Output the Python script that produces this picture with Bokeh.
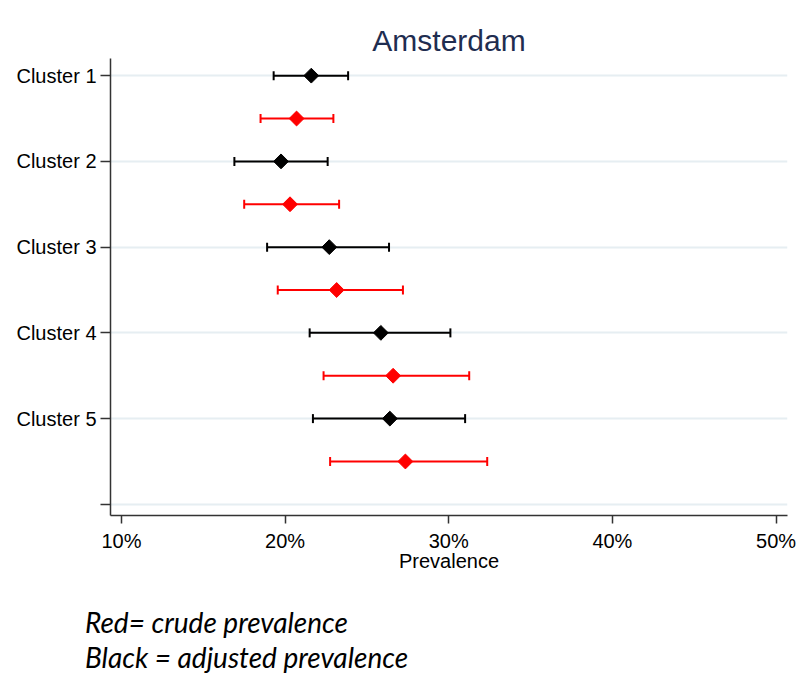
import math
from bokeh.plotting import figure
from bokeh.layouts import column
from bokeh.models import (ColumnDataSource, Range1d, FixedTicker, NumeralTickFormatter,
                          Whisker, TeeHead, Div)
from bokeh.embed import file_html
from bokeh.resources import INLINE

# ---- data (percent values) ----
clusters = ["Cluster 1", "Cluster 2", "Cluster 3", "Cluster 4", "Cluster 5"]
adj_est = [21.6, 19.75, 22.7, 25.85, 26.4]
adj_lo = [19.3, 16.9, 18.9, 21.5, 21.7]
adj_hi = [23.85, 22.6, 26.35, 30.1, 31.0]
crude_est = [20.7, 20.3, 23.15, 26.6, 27.35]
crude_lo = [18.5, 17.5, 19.55, 22.35, 22.75]
crude_hi = [22.95, 23.3, 27.2, 31.25, 32.35]
x_ticks = [0.1, 0.2, 0.3, 0.4, 0.5]
footnotes = ["Red= crude prevalence", "Black = adjusted prevalence"]

pos_adj = [i + 1 for i in range(len(clusters))]
pos_crude = [i + 1.5 for i in range(len(clusters))]

src_adj = ColumnDataSource(dict(y=pos_adj, x=[v / 100 for v in adj_est],
                                lo=[v / 100 for v in adj_lo], hi=[v / 100 for v in adj_hi]))
src_crude = ColumnDataSource(dict(y=pos_crude, x=[v / 100 for v in crude_est],
                                  lo=[v / 100 for v in crude_lo], hi=[v / 100 for v in crude_hi]))

p = figure(width=798, height=575, output_backend="svg", toolbar_location=None,
           x_range=Range1d(0.0933, 0.507), y_range=Range1d(6.13, 0.80),
           min_border_left=110, min_border_right=11, min_border_top=58, min_border_bottom=60,
           title="Amsterdam")
p.outline_line_color = None
p.background_fill_color = "white"
p.border_fill_color = "white"

p.title.align = "center"
p.title.text_font = "Liberation Sans"
p.title.text_font_size = "30px"
p.title.text_font_style = "normal"
p.title.text_color = "#1f2d50"
p.title.standoff = 4

# axes
p.xaxis.ticker = FixedTicker(ticks=x_ticks)
p.xaxis.formatter = NumeralTickFormatter(format="0%")
p.xaxis.axis_label = "Prevalence"
p.xaxis.axis_label_text_font = "Liberation Sans"
p.xaxis.axis_label_text_font_size = "20px"
p.xaxis.axis_label_text_font_style = "normal"
p.xaxis.axis_label_standoff = -5
p.xaxis.major_label_text_font = "Liberation Sans"
p.xaxis.major_label_text_font_size = "20px"
p.xaxis.major_label_standoff = 6
p.xaxis.major_tick_out = 8
p.xaxis.major_tick_in = 0
p.xaxis.minor_tick_line_color = None

yticks = [1, 2, 3, 4, 5, 6]
p.yaxis.ticker = FixedTicker(ticks=yticks)
p.yaxis.major_label_overrides = {i + 1: c for i, c in enumerate(clusters)} | {6: ""}
p.yaxis.major_label_text_font = "Liberation Sans"
p.yaxis.major_label_text_font_size = "20px"
p.yaxis.major_label_standoff = 4
p.yaxis.major_tick_out = 10
p.yaxis.major_tick_in = 0
p.yaxis.minor_tick_line_color = None

for ax in (p.xaxis, p.yaxis):
    ax.axis_line_color = "#333333"
    ax.axis_line_width = 1.5
    ax.major_tick_line_color = "#333333"
    ax.major_tick_line_width = 1.5
    ax.major_label_text_color = "black"
    ax.axis_label_text_color = "black"

p.xgrid.grid_line_color = None
p.ygrid.grid_line_color = "#e6eef2"
p.ygrid.grid_line_width = 2

# error bars
for src, col in ((src_adj, "black"), (src_crude, "red")):
    w = Whisker(source=src, base="y", lower="lo", upper="hi", dimension="width",
                line_color=col, line_width=2,
                lower_head=TeeHead(size=9, line_color=col, line_width=2),
                upper_head=TeeHead(size=9, line_color=col, line_width=2))
    p.add_layout(w)
    p.scatter("x", "y", source=src, marker="square", angle=math.pi / 4, size=10.5,
              fill_color=col, line_color=col)

# footnote
note_html = ('<div style="padding-left:85px;padding-top:30px;font-family:Lato;'
             'font-style:italic;font-size:28px;line-height:35px;color:black;'
             'white-space:nowrap">' + "<br>".join(footnotes) + '</div>')
note = Div(text=note_html, width=798, height=100, margin=0)

layout = column(p, note, spacing=0)
open("out.html", "w").write(file_html(layout, INLINE))
